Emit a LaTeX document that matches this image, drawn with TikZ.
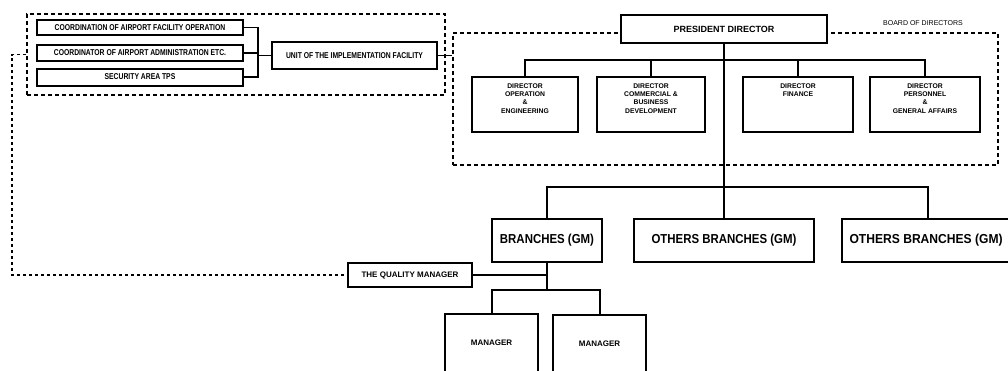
\documentclass[tikz,border=0pt]{standalone}
\usepackage{fontspec}
\setmainfont{Liberation Sans}
\usepackage{graphicx}
\newcommand{\hsc}[2]{\scalebox{#1}[1]{#2}}
\begin{document}
\begin{tikzpicture}[x=1pt,y=-1pt,
  box/.style={draw=black, line width=2pt, rectangle, inner sep=0pt, fill=white, font=\bfseries},
  grp/.style={draw=black, line width=1.5pt, dash pattern=on 4pt off 3pt, rectangle, inner sep=0pt},
  link/.style={draw=black, line width=2pt},
  thinlink/.style={draw=black, line width=1.2pt},
  loopline/.style={draw=black, line width=1.5pt, dash pattern=on 3pt off 3pt},
  lfont/.style={font=\bfseries\fontsize{8.5}{10}\selectfont},
  dfont/.style={font=\bfseries\fontsize{6.8}{8.3}\selectfont, align=center, anchor=north, yshift=-4pt},
  bfont/.style={font=\bfseries\fontsize{13}{15}\selectfont},
]
\fill[white] (0,0) rectangle (1008,370);
\useasboundingbox (0,0) rectangle (1008,370);
\clip (0,0) rectangle (1008,370);

% frames
\node[grp, minimum width=418pt, minimum height=81pt] (leftgrp) at (236,54.5) {};
\node[grp, minimum width=545pt, minimum height=132pt] (staff) at (725.5,99) {};

% left boxes
\node[box, lfont, minimum width=206pt, minimum height=15pt] (c1) at (140,27.5) {\hsc{0.8}{COORDINATION OF AIRPORT FACILITY OPERATION}};
\node[box, lfont, minimum width=206pt, minimum height=16pt] (c2) at (140,53) {\hsc{0.8}{COORDINATOR OF AIRPORT ADMINISTRATION ETC.}};
\node[box, lfont, minimum width=206pt, minimum height=17pt] (c3) at (140,77) {\hsc{0.8}{SECURITY AREA TPS}};
\node[box, lfont, minimum width=165pt, minimum height=27pt] (unit) at (354.5,55.5) {\hsc{0.8}{UNIT OF THE IMPLEMENTATION FACILITY}};
\coordinate (brk) at (258,55.5);
\draw[thinlink] (c1.east) -| (brk);
\draw[thinlink] (c3.east) -| (brk);
\draw[thinlink] (c2.east) -| (brk);
\draw[thinlink] (brk) -- (unit.west);
\draw[thinlink] (unit.east) -- (staff.west |- unit.east);

% president
\node[box, font=\bfseries\fontsize{9}{10}\selectfont, minimum width=206pt, minimum height=28pt] (pres) at (724,29) {PRESIDENT DIRECTOR};
\node[font=\fontsize{7}{8}\selectfont] (board) at (923,23) {BOARD OF DIRECTORS};

% directors
\node[box, minimum width=106pt, minimum height=55pt, label={[dfont]north:{DIRECTOR\\OPERATION\\\&\\ENGINEERING}}] (d1) at (525,104.5) {};
\node[box, minimum width=108pt, minimum height=55pt, label={[dfont]north:{DIRECTOR\\COMMERCIAL \&\\BUSINESS\\DEVELOPMENT}}] (d2) at (651,104.5) {};
\node[box, minimum width=110pt, minimum height=55pt, label={[dfont]north:{DIRECTOR\\FINANCE}}] (d3) at (798,104.5) {};
\node[box, minimum width=110pt, minimum height=55pt, label={[dfont]north:{DIRECTOR\\PERSONNEL\\\&\\GENERAL AFFAIRS}}] (d4) at (925,104.5) {};
\coordinate (bus1) at (724,60);
\draw[link] (d1.north) |- (bus1) -| (d4.north);
\draw[link] (d2.north) -- (d2.north |- bus1);
\draw[link] (d3.north) -- (d3.north |- bus1);

% branches
\node[box, bfont, minimum width=110pt, minimum height=43pt] (b1) at (547,240.5) {\hsc{0.88}{BRANCHES (GM)}};
\node[box, bfont, minimum width=180pt, minimum height=43pt] (b2) at (724,240.5) {\hsc{0.88}{OTHERS BRANCHES (GM)}};
\node[box, minimum width=172pt, minimum height=43pt, label={[bfont, anchor=west, xshift=5pt]west:{\hsc{0.93}{OTHERS BRANCHES (GM)}}}] (b3) at (928,240.5) {};
\draw[link] (pres.south) -- (b2.north);
\coordinate (bus2) at (724,187);
\draw[link] (b1.north) |- (bus2) -| (b3.north);

% quality and managers
\node[box, font=\bfseries\fontsize{8}{9}\selectfont, minimum width=124pt, minimum height=24pt] (qual) at (410,275) {THE QUALITY MANAGER};
\draw[link] (qual.east) -- (b1.south |- qual.east);
\coordinate (mbus) at (547,290);
\draw[link] (b1.south) -- (mbus);
\node[box, font=\bfseries\fontsize{8}{9}\selectfont, minimum width=93pt, minimum height=58pt] (m1) at (491.5,343) {MANAGER};
\node[box, font=\bfseries\fontsize{8}{9}\selectfont, minimum width=93pt, minimum height=58pt] (m2) at (599.5,344) {MANAGER};
\draw[link] (m1.north) |- (mbus) -| (m2.north);

% feedback loop
\coordinate (lp1) at (12,54.5);
\coordinate (lp2) at (12,275);
\draw[loopline] (leftgrp.west) -- (lp1) -- (lp2) -- (qual.west);
\end{tikzpicture}
\end{document}
